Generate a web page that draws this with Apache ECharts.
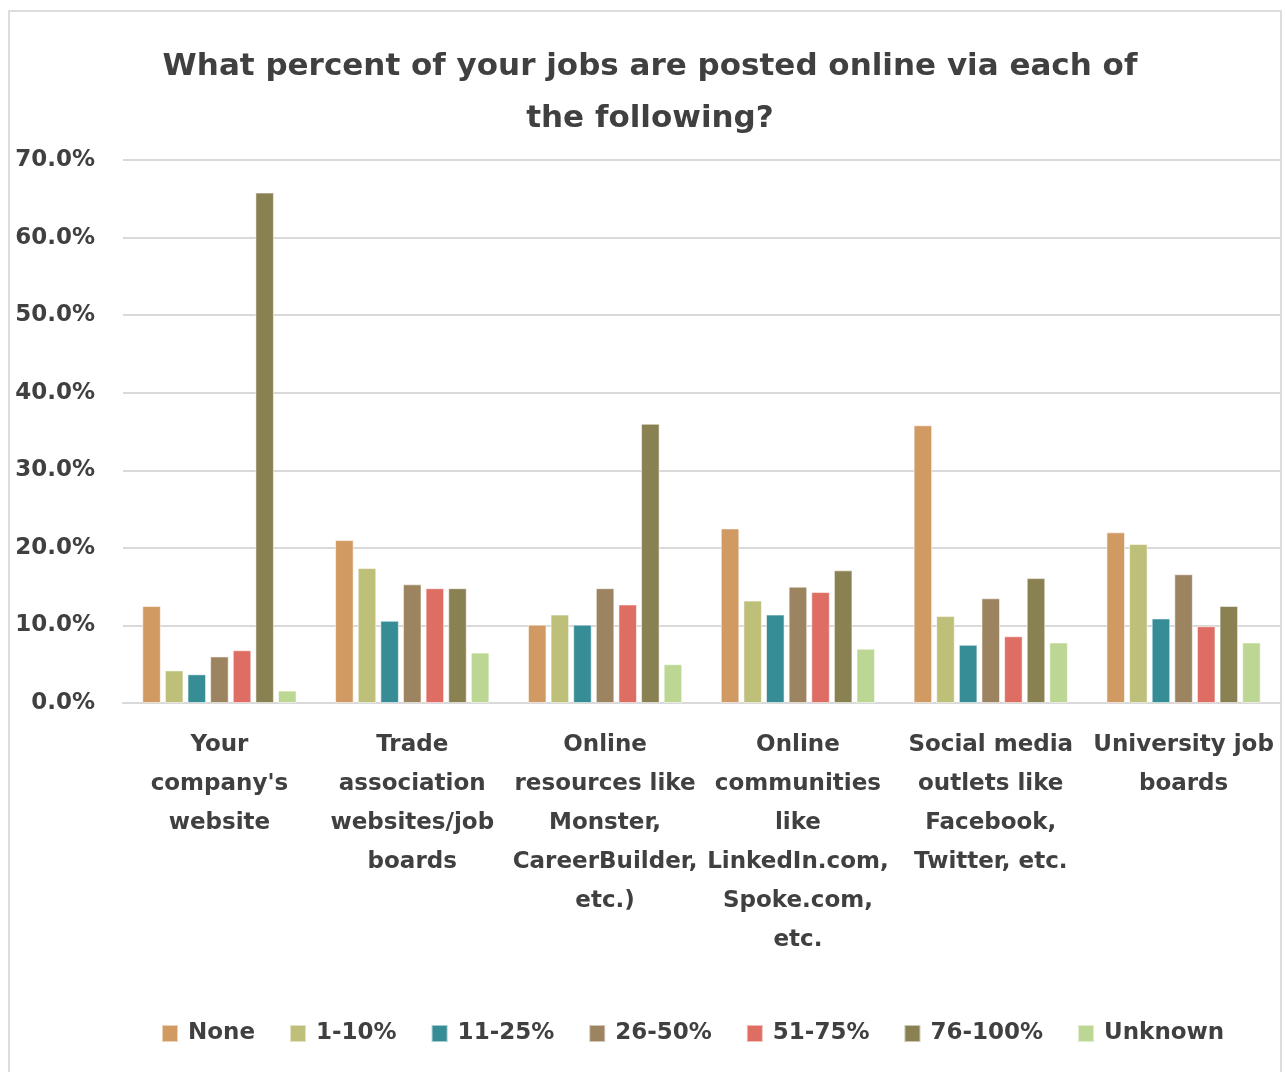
<!DOCTYPE html>
<html>
<head>
<meta charset="utf-8">
<script src="https://cdn.jsdelivr.net/npm/echarts@6/dist/echarts.min.js"></script>
<style>
  html, body { margin: 0; padding: 0; background: #ffffff; }
  #chart { width: 1285px; height: 1072px; }
</style>
</head>
<body>
<div id="chart"></div>
<script>
// Survey: share of job postings placed through each online channel
const categories = [
  "Your\ncompany's\nwebsite",
  "Trade\nassociation\nwebsites/job\nboards",
  "Online\nresources like\nMonster,\nCareerBuilder,\netc.)",
  "Online\ncommunities\nlike\nLinkedIn.com,\nSpoke.com,\netc.",
  "Social media\noutlets like\nFacebook,\nTwitter, etc.",
  "University job\nboards"
];

const seriesNames = ["None", "1-10%", "11-25%", "26-50%", "51-75%", "76-100%", "Unknown"];

// Percent of respondents, one array per answer bucket (order follows categories)
const none      = [12.5, 21.0, 10.1, 22.5, 35.8, 22.0];
const pct1to10  = [4.2, 17.4, 11.4, 13.2, 11.2, 20.5];
const pct11to25 = [3.7, 10.6, 10.1, 11.4, 7.5, 10.9];
const pct26to50 = [6.0, 15.3, 14.8, 15.0, 13.5, 16.6];
const pct51to75 = [6.8, 14.8, 12.7, 14.3, 8.6, 9.9];
const pct76to100 = [65.8, 14.8, 36.0, 17.1, 16.1, 12.5];
const unknown   = [1.6, 6.5, 5.0, 7.0, 7.8, 7.8];

const seriesValues = [none, pct1to10, pct11to25, pct26to50, pct51to75, pct76to100, unknown];
const seriesColors = ["#D19A62", "#BEC07A", "#368D96", "#9C8461", "#DE6E64", "#8A8152", "#BBD793"];

const yTicks = { min: 0, max: 70, interval: 10 };

const FONT = "DejaVu Sans";
const TEXT = "#404040";

const chart = echarts.init(document.getElementById("chart"));

chart.setOption({
  animation: false,
  backgroundColor: "#ffffff",
  title: {
    text: "What percent of your jobs are posted online via each of\nthe following?",
    left: 645,
    top: 36,
    textAlign: "center",
    textStyle: {
      fontFamily: FONT,
      fontWeight: "bold",
      fontSize: 31,
      lineHeight: 52,
      color: TEXT
    }
  },
  graphic: [{
    type: "rect",
    silent: true,
    shape: { x: 9, y: 11, width: 1272, height: 1100 },
    style: { fill: "none", stroke: "#dddddd", lineWidth: 2 }
  }],
  legend: {
    data: seriesNames,
    left: 156,
    top: 1017,
    icon: "rect",
    itemWidth: 16,
    itemHeight: 17,
    itemGap: 34,
    textStyle: {
      fontFamily: FONT,
      fontWeight: "bold",
      fontSize: 23,
      color: TEXT,
      padding: [0, 0, 0, 5]
    }
  },
  grid: {
    left: 123,
    right: 5,
    top: 160,
    bottom: 369,
    containLabel: false
  },
  xAxis: {
    type: "category",
    data: categories,
    axisLine: { show: true, lineStyle: { color: "#d9d9d9", width: 2 } },
    axisTick: { show: false },
    axisLabel: {
      interval: 0,
      margin: 23,
      fontFamily: FONT,
      fontWeight: "bold",
      fontSize: 23,
      lineHeight: 39,
      color: TEXT,
      align: "center"
    }
  },
  yAxis: {
    type: "value",
    min: yTicks.min,
    max: yTicks.max,
    interval: yTicks.interval,
    axisLine: { show: false },
    axisTick: { show: false },
    splitLine: { lineStyle: { color: "#d9d9d9", width: 2 } },
    axisLabel: {
      margin: 28,
      fontFamily: FONT,
      fontWeight: "bold",
      fontSize: 23,
      color: TEXT,
      formatter: v => v.toFixed(1) + "%"
    }
  },
  series: seriesNames.map((name, i) => ({
    name: name,
    type: "bar",
    data: seriesValues[i],
    barGap: "22%",
    barCategoryGap: "20%",
    itemStyle: {
      color: seriesColors[i],
      borderColor: "rgba(255,255,255,0.55)",
      borderWidth: 1
    }
  }))
});
</script>
</body>
</html>
